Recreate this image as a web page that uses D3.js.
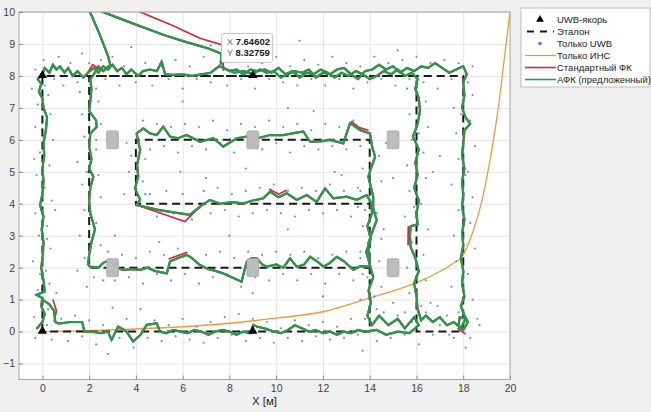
<!DOCTYPE html>
<html>
<head>
<meta charset="utf-8">
<script src="https://cdn.jsdelivr.net/npm/d3@7"></script>
<style>
  body { margin: 0; background: #f0f0f0; }
  svg { display: block; font-family: "Liberation Sans", Arial, sans-serif; }
</style>
</head>
<body>
<svg id="chart" width="651" height="412"></svg>
<script>
// axis ticks
const xTicks = [0, 2, 4, 6, 8, 10, 12, 14, 16, 18, 20];
const yTicks = [-1, 0, 1, 2, 3, 4, 5, 6, 7, 8, 9, 10];

// UWB anchors
const anchorX = [0, 9, 0, 9];
const anchorY = [8, 8, 0, 0];

// obstacles (grey boxes)
const boxX = [3, 9, 15, 3, 9, 15];
const boxY = [6, 6, 6, 2, 2, 2];

// reference route (Эталон)
const refX = [0, 0, 18, 18, 16, 16, 2, 2, 14, 14, 4, 4, 14, 14, 0];
const refY = [0, 8, 8, 0, 0, 8, 8, 2, 2, 6, 6, 4, 4, 0, 0];

// INS only
const insX = [0, 2, 4, 6, 8, 10, 12, 14, 15, 16, 17, 17.5, 18, 18.4, 18.8, 19.2, 19.5, 19.8, 20.05];
const insY = [0, 0.03, 0.08, 0.15, 0.26, 0.42, 0.62, 1.05, 1.27, 1.53, 1.88, 2.1, 2.4, 3.1, 4.1, 5.6, 7.0, 8.8, 10.3];

// proposed AFK track
const afkPath = [
  [-0.25,0.08],[0.0,0.3],[0.1,0.55],[-0.05,0.8],[0.0,1.05],[-0.25,1.15],[0.1,1.25],[0.05,1.6],[-0.05,2.0],[0.02,2.4],
  [0.05,2.8],[-0.03,3.2],[0.05,3.6],[-0.1,3.95],[0.0,4.3],[0.05,4.7],[0.0,5.1],[0.08,5.5],[0.05,5.9],[0.15,6.3],
  [0.2,6.7],[0.05,7.0],[0.0,7.3],[-0.15,7.5],[-0.05,7.75],[-0.2,7.9],[0.0,8.05],[0.1,8.25],[0.3,8.1],[0.45,8.35],
  [0.6,8.2],[0.75,8.3],[0.95,8.1],[1.1,8.25],[1.3,8.0],[1.5,8.15],[1.75,7.95],[1.95,8.1],[2.2,8.25],[2.4,8.1],
  [2.6,8.3],[2.8,8.2],[3.0,8.35],[3.2,8.15],[3.4,8.25],[3.6,8.05],[3.8,8.2],[4.1,8.0],[4.3,8.15],[4.6,8.2],
  [4.9,8.15],[5.1,8.45],[5.25,8.05],[5.6,8.03],[6.0,8.05],[6.4,8.0],[6.8,8.05],[7.2,8.1],[7.55,8.3],[7.9,8.2],
  [8.2,8.1],[8.6,8.15],[9.0,8.05],[9.3,8.2],[9.6,8.1],[9.9,8.15],[10.2,7.95],[10.5,8.05],[10.8,8.15],[11.1,8.1],
  [11.4,8.2],[11.7,7.95],[12.0,8.1],[12.3,8.05],[12.6,8.2],[12.9,8.25],[13.2,8.05],[13.5,7.9],[13.8,8.15],[14.1,8.2],
  [14.4,8.35],[14.7,8.2],[15.0,8.3],[15.3,8.1],[15.6,8.25],[15.9,8.15],[16.2,8.3],[16.5,8.25],[16.8,8.4],[17.1,8.25],
  [17.4,8.1],[17.7,8.2],[18.0,8.3],[18.15,8.05],
  [18.0,7.8],[18.05,7.4],[17.95,7.0],[18.1,6.7],[18.3,6.5],[18.05,6.3],[18.0,5.9],[17.95,5.5],[18.05,5.1],[17.95,4.7],
  [18.0,4.3],[17.95,3.9],[18.05,3.5],[17.95,3.1],[18.0,2.7],[17.9,2.3],[18.0,1.9],[17.95,1.5],[18.05,1.1],[17.9,0.8],
  [18.05,0.5],[18.2,0.3],[18.0,0.05],[17.8,0.2],[17.85,0.45],[18.1,0.4],[17.9,0.1],[17.6,0.3],[17.3,0.2],[17.0,0.45],
  [16.7,0.3],[16.4,0.5],[16.2,0.35],
  [16.05,0.7],[16.0,1.1],[15.9,1.5],[16.1,1.9],[15.95,2.3],[15.75,2.65],[15.72,3.0],[15.75,3.3],[16.05,3.35],[16.0,3.7],
  [16.1,4.1],[15.9,4.5],[16.05,4.9],[15.95,5.3],[16.1,5.7],[15.85,6.1],[16.05,6.5],[16.15,6.9],[16.1,7.3],[15.95,7.6],
  [16.05,7.9],[15.8,8.1],
  [15.5,8.0],[15.2,8.2],[14.9,8.05],[14.6,8.15],[14.3,8.0],[14.0,7.9],[13.7,8.05],[13.4,8.15],[13.1,8.0],[12.8,8.1],
  [12.5,7.95],[12.2,8.1],[11.9,8.2],[11.6,8.05],[11.3,8.1],[11.0,7.95],[10.7,8.15],[10.4,8.05],[10.1,8.25],[9.8,8.1],
  [9.5,8.2],[9.2,8.15],[8.9,8.2],[8.6,8.05],[8.3,8.2],[8.0,8.15],[7.75,8.25],[7.646,8.328],
  [7.64,8.7],[7.1,8.86],[6.2,9.05],[5.2,9.28],[4.2,9.55],[3.3,9.8],[2.59,10.0],[2.0,10.3],[1.6,10.6],[1.7,10.3],
  [2.04,10.0],[2.45,9.3],[2.82,8.6],[2.9,8.35],[2.6,8.15],[2.4,8.3],[2.2,8.05],[2.05,7.9],
  [2.1,7.6],[2.05,7.2],[2.0,6.9],[2.3,6.6],[2.32,6.4],[2.05,6.2],[2.0,5.8],[2.1,5.4],[2.0,5.1],[2.18,4.85],
  [2.05,4.5],[2.0,4.1],[2.05,3.7],[2.25,3.2],[2.1,2.8],[2.0,2.4],[1.95,2.1],[2.04,2.03],
  [2.4,2.0],[2.6,2.15],[2.89,2.24],[3.1,2.0],[3.46,1.93],[3.8,1.95],[4.18,1.93],[4.5,2.0],[4.8,1.9],[5.1,1.85],
  [5.32,1.82],[5.46,2.19],[5.8,2.3],[6.17,2.4],[6.4,2.3],[6.74,2.08],[7.1,1.95],[7.4,1.9],[7.74,1.82],[8.1,1.7],
  [8.52,1.56],[8.74,2.19],[8.95,2.3],[9.17,2.29],[9.4,2.1],[9.6,2.03],[10.0,2.1],[10.3,2.0],[10.59,2.29],[10.88,2.03],
  [11.2,2.1],[11.45,2.34],[11.75,2.2],[12.02,2.03],[12.3,2.15],[12.59,2.34],[12.9,2.2],[13.3,1.93],[13.6,2.05],[14.01,2.03],
  [13.94,2.76],[14.1,3.1],[14.3,3.49],[14.15,3.85],[14.15,4.22],[13.94,4.85],[14.05,5.1],[14.23,5.47],[14.1,5.8],[14.01,6.2],
  [13.6,6.3],[13.16,6.52],[12.87,5.89],[12.3,6.0],[11.9,5.95],[11.45,5.94],[11.16,6.26],[10.7,6.2],[10.3,6.15],[9.74,6.15],
  [9.2,6.05],[8.74,6.1],[8.31,6.05],[7.74,5.79],[7.31,6.05],[6.74,5.94],[6.17,6.15],[5.8,6.05],[5.46,6.1],[5.17,6.41],
  [4.89,6.15],[4.6,6.2],[4.32,6.36],[4.03,6.2],
  [4.18,5.68],[4.05,5.2],[4.1,4.85],[3.96,4.48],[4.18,4.12],[4.03,3.96],
  [5.0,3.8],[6.31,3.65],[6.74,3.91],[7.17,4.12],[7.6,4.0],[8.1,4.05],[8.6,4.01],[9.0,4.1],[9.45,4.17],[9.74,4.38],
  [10.1,4.2],[10.45,4.33],[10.88,4.12],[11.31,4.27],[11.73,4.06],[12.09,4.48],[12.44,4.17],[13.02,4.22],[13.44,4.12],[13.87,4.27],
  [14.08,4.01],
  [14.1,3.7],[13.9,3.3],[14.05,2.9],[13.85,2.5],[14.0,2.1],[14.15,1.7],[13.95,1.3],[14.05,0.9],[13.9,0.5],[14.1,0.2],
  [14.4,0.5],[14.8,0.2],[15.2,0.4],[15.5,0.1],[15.9,0.45],[16.1,0.2],[15.7,-0.05],[15.2,0.0],[14.7,-0.1],[14.3,0.05],
  [13.8,0.0],[13.5,0.05],[13.2,-0.05],[12.9,0.0],[12.6,-0.1],[12.3,0.0],[12.0,-0.05],[11.7,0.05],[11.4,0.0],[11.1,0.1],
  [10.8,0.2],[10.5,0.05],[10.2,-0.05],[9.9,0.0],[9.5,0.1],[9.2,0.15],[9.02,0.21],[8.9,-0.05],[8.6,0.0],[8.3,-0.1],
  [8.0,0.0],[7.7,0.05],[7.4,0.0],[7.1,-0.1],[6.8,0.0],[6.5,0.05],[6.2,-0.05],[5.9,0.0],[5.6,0.05],[5.3,-0.05],
  [5.03,0.0],[4.89,0.26],[4.46,0.21],[4.2,-0.1],[3.88,-0.31],[3.6,0.0],[3.24,0.16],[2.96,-0.26],[2.8,0.0],[2.5,-0.05],
  [2.1,0.0],[1.8,0.0],[1.7,0.3],[1.2,0.3],[0.7,0.25],[0.55,0.3],[0.5,0.65],[0.3,0.85],[0.0,1.0]
];

// standard KF: pieces where it leaves the AFK track
const kfJump = [[7.75,8.15],[7.7,8.97],[6.74,9.18],[5.5,9.6],[4.18,10.0],[3.2,10.5],[2.5,10.8]];
const kfDip = [[4.03,3.96],[6.1,3.44],[6.74,3.91]];
const kfBits = [
  [[0.5,0.3],[0.6,0.65],[0.45,1.0]],
  [[1.9,8.05],[2.15,8.35],[2.45,8.2]],
  [[13.2,6.58],[13.55,6.38],[13.95,6.3]],
  [[9.7,4.46],[10.1,4.3],[10.45,4.42]],
  [[5.4,2.27],[5.8,2.38],[6.2,2.48]],
  [[15.65,3.3],[15.64,2.7]],
  [[17.75,0.1],[18.1,-0.08]]
];

// UWB only measurements
const uwbPoints = [
  [-0.35,0.45],[0.25,0.7],[-0.2,1.3],[0.3,1.5],[0.15,1.9],[-0.4,2.2],[0.35,2.6],[-0.15,3.0],[0.2,3.3],[-0.3,3.7],
  [0.4,4.1],[0.1,4.5],[-0.25,4.9],[0.3,5.2],[-0.1,5.6],[0.45,6.0],[-0.3,6.4],[0.35,6.8],[-0.2,7.1],[0.25,7.4],
  [-0.45,7.6],[0.1,7.7],[0.5,7.9],[-0.3,8.2],[0.05,8.5],[-0.1,1.8],[0.2,2.9],[-0.35,5.4],[0.55,3.8],[0.6,1.2],
  [0.7,8.6],[0.9,7.7],[1.2,8.4],[1.5,7.8],[1.7,8.7],[2.0,8.4],[2.3,7.6],[2.5,8.5],[2.7,7.9],[3.0,8.6],
  [3.3,7.7],[3.5,8.3],[3.8,8.9],[4.0,7.8],[4.4,8.4],[4.7,7.7],[5.1,8.3],[5.4,7.9],[5.7,8.5],[6.0,7.6],
  [6.3,8.3],[6.6,7.9],[6.9,8.6],[7.2,7.8],[7.6,8.45],[7.9,7.7],[8.2,8.5],[8.5,7.9],[8.8,8.3],[9.1,7.6],
  [9.4,8.4],[9.7,7.9],[10.0,8.6],[10.3,7.8],[10.6,8.3],[10.9,7.7],[11.2,8.5],[11.5,7.9],[11.8,8.35],[12.1,7.7],
  [12.4,8.6],[12.7,7.9],[13.0,8.4],[13.3,7.6],[13.6,8.3],[13.9,7.8],[14.2,8.6],[14.5,7.9],[14.8,8.4],[15.1,7.7],
  [15.4,8.5],[15.7,7.9],[16.0,8.6],[16.3,7.8],[16.6,8.4],[16.9,7.6],[17.2,8.5],[17.5,7.9],[17.8,8.4],[18.2,7.8],
  [18.4,8.3],[11.0,9.1],[7.2,8.95],[15.2,8.8],
  [18.4,7.4],[17.6,7.0],[18.3,6.6],[17.7,6.2],[18.5,5.8],[17.8,5.4],[18.2,5.0],[17.5,4.6],[18.4,4.2],[17.8,3.8],
  [18.3,3.4],[17.6,3.0],[18.5,2.6],[17.7,2.2],[18.2,1.8],[17.5,1.4],[18.4,1.0],[17.8,0.6],[18.6,0.4],[18.3,-0.2],
  [18.1,-0.5],[17.4,-0.1],[18.7,0.2],[17.9,6.8],[18.1,4.9],
  [15.6,7.6],[16.4,7.2],[15.7,6.8],[16.5,6.4],[15.8,6.0],[16.3,5.6],[15.6,5.2],[16.4,4.8],[15.7,4.4],[16.2,4.0],
  [15.5,3.6],[16.5,3.2],[15.8,2.8],[16.3,2.4],[15.6,2.0],[16.4,1.6],[15.7,1.2],[16.2,0.8],[15.5,0.6],[16.6,0.9],
  [16.1,6.2],[15.9,3.9],[16.7,5.0],
  [1.6,7.5],[2.4,7.2],[1.7,6.8],[2.5,6.5],[1.8,6.1],[2.3,5.7],[1.5,5.3],[2.4,4.9],[1.7,4.6],[2.5,4.2],
  [1.8,3.8],[2.3,3.4],[1.6,3.0],[2.5,2.7],[1.8,2.3],[2.2,1.7],[1.5,1.9],[2.6,1.6],[1.9,1.4],[2.3,6.0],[1.9,5.0],
  [2.8,2.5],[3.1,1.6],[3.4,2.4],[3.7,1.7],[4.0,2.3],[4.3,1.5],[4.6,2.5],[4.9,1.8],[5.2,2.4],[5.5,1.6],
  [5.8,2.6],[6.1,1.8],[6.4,2.3],[6.7,1.5],[7.0,2.4],[7.3,1.7],[7.6,2.5],[7.9,1.8],[8.2,2.3],[8.5,1.4],
  [8.8,2.5],[9.1,1.7],[9.4,2.4],[9.7,1.6],[10.0,2.5],[10.3,1.8],[10.6,2.4],[10.9,1.6],[11.2,2.5],[11.5,1.8],
  [11.8,2.3],[12.1,1.5],[12.4,2.4],[12.7,1.8],[13.0,2.5],[13.3,1.6],[13.6,2.3],[13.9,1.7],[5.0,2.8],[9.0,1.2],[12.0,1.1],
  [13.6,5.8],[14.4,5.5],[13.7,5.1],[14.5,4.7],[13.6,4.4],[14.3,3.7],[13.7,3.3],[14.5,2.9],[13.6,2.5],[14.4,2.2],
  [13.7,1.8],[14.5,1.4],[13.6,1.0],[14.3,0.7],[13.8,0.4],[14.6,3.2],[13.5,3.9],[14.2,1.1],[14.7,5.9],
  [4.3,6.6],[4.6,5.7],[4.9,6.5],[5.2,5.8],[5.5,6.4],[5.8,5.6],[6.1,6.5],[6.4,5.8],[6.7,6.4],[7.0,5.7],
  [7.3,6.6],[7.6,5.9],[7.9,6.3],[8.2,5.6],[8.5,6.5],[8.8,5.8],[9.1,6.4],[9.4,5.7],[9.7,6.6],[10.0,5.9],
  [10.3,6.4],[10.6,5.6],[10.9,6.5],[11.2,5.8],[11.5,6.3],[11.8,5.7],[12.1,6.5],[12.4,5.8],[12.7,6.4],[13.0,5.7],
  [13.3,6.6],[8.7,5.1],[11.6,6.9],[5.9,5.0],
  [3.6,5.9],[4.4,5.4],[3.7,5.0],[4.3,4.7],[3.5,4.3],[4.4,4.3],[3.8,5.5],
  [4.6,4.3],[4.9,3.6],[5.3,4.4],[5.6,3.7],[6.0,4.3],[6.4,3.5],[6.9,4.4],[7.2,3.7],[7.5,4.5],[7.8,3.8],
  [8.1,4.3],[8.4,3.6],[8.7,4.4],[9.0,3.7],[9.3,4.5],[9.6,3.8],[9.9,4.6],[10.2,3.7],[10.5,4.4],[10.8,3.6],
  [11.1,4.5],[11.4,3.8],[11.7,4.4],[12.0,3.7],[12.3,4.6],[12.6,3.8],[12.9,4.4],[13.2,3.6],[13.5,4.5],[13.8,3.8],
  [7.0,4.8],[10.5,3.2],[12.8,4.9],
  [0.4,-0.25],[0.8,0.4],[1.1,-0.3],[1.4,0.5],[1.7,-0.15],[2.0,0.35],[2.3,-0.4],[2.6,0.2],[2.8,-0.7],[3.0,0.75],
  [3.3,-0.2],[3.6,0.4],[3.9,-0.5],[4.2,0.7],[4.5,-0.2],[4.8,0.35],[5.1,-0.3],[5.4,0.2],[5.7,-0.15],[6.0,0.4],
  [6.3,-0.25],[6.6,0.15],[6.9,-0.35],[7.2,0.3],[7.5,-0.2],[7.8,0.45],[8.1,-0.1],[8.4,0.55],[8.7,-0.3],[9.0,0.4],
  [9.3,-0.2],[9.6,0.3],[9.9,-0.35],[10.2,0.1],[10.5,-0.2],[10.8,0.35],[11.1,-0.3],[11.4,0.2],[11.7,-0.15],[12.0,0.3],
  [12.3,-0.25],[12.6,0.15],[12.9,-0.2],[13.2,0.4],[13.5,-0.1],[13.7,-0.6],[14.3,-0.3],[14.6,0.6],[14.9,-0.2],[15.2,0.5],
  [15.5,-0.1],[15.8,0.3],[16.1,-0.4],[16.4,0.6],[16.7,-0.1],[17.0,0.2],[17.3,0.5],[17.6,-0.2],[15.0,0.9],[16.9,0.8],
  [-0.3,-0.2],[0.2,0.2],[6.0,7.2],[10.5,7.0],[12.5,5.0],[3.1,3.0],[8.0,3.0],[15.0,4.8],[17.0,5.5]
];

// datatip
const tipPoint = [7.64602, 8.32759];

const legendLabels = ['UWB-якорь', 'Эталон', 'Только UWB', 'Только ИНС', 'Стандартный ФК', 'АФК (предложенный)'];

const colors = {
  ins: '#ee9a3a',
  kf: '#d7263d',
  afk: '#1f9d48',
  uwb: '#3b82e6'
};

const svg = d3.select('#chart');

const mLeft = 19, mRight = 510, mTop = 12, mBottom = 379.5;
const x = d3.scaleLinear().domain([-1, 20]).range([mLeft, mRight]);
const y = d3.scaleLinear().domain([-1.5, 10]).range([mBottom, mTop]);

//figure background + axes area
svg.append('rect').attr('width', 651).attr('height', 412).attr('fill', '#f0f0f0');
svg.append('rect')
  .attr('x', mLeft).attr('y', mTop)
  .attr('width', mRight - mLeft).attr('height', mBottom - mTop)
  .attr('fill', '#fff');

svg.append('clipPath').attr('id', 'plotClip')
  .append('rect')
  .attr('x', mLeft).attr('y', mTop)
  .attr('width', mRight - mLeft).attr('height', mBottom - mTop);

//grid
svg.append('g')
  .attr('transform', `translate(0,${mBottom})`)
  .call(d3.axisBottom(x).tickValues(xTicks).tickSize(-(mBottom - mTop)).tickFormat(''))
  .call(g => g.select('.domain').remove())
  .selectAll('line').attr('stroke', '#e4e4e4');
svg.append('g')
  .attr('transform', `translate(${mLeft},0)`)
  .call(d3.axisLeft(y).tickValues(yTicks).tickSize(-(mRight - mLeft)).tickFormat(''))
  .call(g => g.select('.domain').remove())
  .selectAll('line').attr('stroke', '#e4e4e4');

const plot = svg.append('g').attr('clip-path', 'url(#plotClip)');
const line = d3.line().x(d => x(d[0])).y(d => y(d[1]));
const smooth = d3.line().x(d => x(d[0])).y(d => y(d[1])).curve(d3.curveMonotoneX);

// INS only
plot.append('path')
  .datum(insX.map((v, i) => [v, insY[i]]))
  .attr('d', smooth)
  .attr('fill', 'none')
  .attr('stroke', colors.ins)
  .attr('stroke-width', 1.3);

// reference
plot.append('path')
  .datum(refX.map((v, i) => [v, refY[i]]))
  .attr('d', line)
  .attr('fill', 'none')
  .attr('stroke', '#1a1a1a')
  .attr('stroke-width', 2)
  .attr('stroke-dasharray', '8,5');

// UWB dots
plot.selectAll('circle.uwb')
  .data(uwbPoints)
  .join('circle')
  .attr('class', 'uwb')
  .attr('cx', d => x(d[0]))
  .attr('cy', d => y(d[1]))
  .attr('r', 1.1)
  .attr('fill', colors.uwb)
  .attr('opacity', 0.85);

// standard KF (mostly hidden under AFK)
plot.append('path').datum(afkPath).attr('d', line)
  .attr('fill', 'none').attr('stroke', colors.kf).attr('stroke-width', 2.2);
[kfJump, kfDip, ...kfBits].forEach(seg => {
  plot.append('path').datum(seg).attr('d', line)
    .attr('fill', 'none').attr('stroke', colors.kf).attr('stroke-width', 1.7);
});

// AFK
plot.append('path').datum(afkPath).attr('d', line)
  .attr('fill', 'none')
  .attr('stroke', colors.afk)
  .attr('stroke-width', 2.2)
  .attr('stroke-linejoin', 'round');

// obstacles
const bw = x(0.25) - x(-0.25), bh = y(-0.28) - y(0.28);
plot.selectAll('rect.box')
  .data(boxX.map((v, i) => [v, boxY[i]]))
  .join('rect')
  .attr('class', 'box')
  .attr('x', d => x(d[0]) - bw / 2)
  .attr('y', d => y(d[1]) - bh / 2)
  .attr('width', bw).attr('height', bh)
  .attr('rx', 1.5)
  .attr('fill', '#bcbcbc')
  .attr('stroke', '#a3a3a3')
  .attr('stroke-width', 0.8);

// anchors
plot.selectAll('path.anchor')
  .data(anchorX.map((v, i) => [v, anchorY[i]]))
  .join('path')
  .attr('class', 'anchor')
  .attr('d', d3.symbol().type(d3.symbolTriangle).size(38))
  .attr('transform', d => `translate(${x(d[0])},${y(d[1]) - 0.5})`)
  .attr('fill', '#000');

//axes box + ticks
svg.append('rect')
  .attr('x', mLeft).attr('y', mTop)
  .attr('width', mRight - mLeft).attr('height', mBottom - mTop)
  .attr('fill', 'none').attr('stroke', '#a6a6a6').attr('stroke-width', 1);

const xAxis = svg.append('g')
  .attr('transform', `translate(0,${mBottom})`)
  .call(d3.axisBottom(x).tickValues(xTicks).tickSizeInner(-4).tickSizeOuter(0).tickPadding(5));
const yAxis = svg.append('g')
  .attr('transform', `translate(${mLeft},0)`)
  .call(d3.axisLeft(y).tickValues(yTicks).tickSizeInner(-4).tickSizeOuter(0).tickPadding(4));
[xAxis, yAxis].forEach(g => {
  g.select('.domain').remove();
  g.selectAll('line').attr('stroke', '#8a8a8a');
  g.selectAll('text')
    .attr('fill', '#404040')
    .style('font-size', '10.5px')
    .style('font-family', '"Liberation Sans", Arial, sans-serif');
});

svg.append('text')
  .attr('x', (mLeft + mRight) / 2)
  .attr('y', 405)
  .attr('text-anchor', 'middle')
  .attr('fill', '#262626')
  .style('font-size', '11.5px')
  .text('X [м]');

// datatip
const tx = x(tipPoint[0]), ty = y(tipPoint[1]);
svg.append('circle')
  .attr('cx', tx).attr('cy', ty).attr('r', 2)
  .attr('fill', '#9a9a9a').attr('stroke', '#444').attr('stroke-width', 0.6);
const tip = svg.append('g').attr('transform', `translate(${tx + 0.5},${ty - 32})`);
tip.append('rect')
  .attr('width', 51).attr('height', 29).attr('rx', 2)
  .attr('fill', '#fff').attr('stroke', '#c4c4c4');
['X', 'Y'].forEach((lab, i) => {
  const t = tip.append('text').attr('x', 5).attr('y', 12 + i * 11).style('font-size', '9.5px');
  t.append('tspan').attr('fill', '#6b6b6b').text(lab + ' ');
  t.append('tspan').attr('fill', '#1a1a1a').attr('font-weight', 'bold')
    .text(tipPoint[i].toFixed(5));
});

//legend
const legend = svg.append('g').attr('transform', 'translate(521,8)');
legend.append('rect')
  .attr('width', 129).attr('height', 79)
  .attr('fill', '#fff').attr('stroke', '#bdbdbd');
legendLabels.forEach((lab, i) => {
  const row = legend.append('g').attr('transform', `translate(0,${11.5 + i * 12})`);
  if (i === 0) {
    row.append('path').attr('d', d3.symbol().type(d3.symbolTriangle).size(26))
      .attr('transform', 'translate(19,0)').attr('fill', '#000');
  } else if (i === 1) {
    row.append('line').attr('x1', 6).attr('x2', 33)
      .attr('stroke', '#1a1a1a').attr('stroke-width', 2).attr('stroke-dasharray', '7,6');
  } else if (i === 2) {
    row.append('circle').attr('cx', 19).attr('r', 1.8).attr('fill', colors.uwb);
  } else {
    const c = [colors.ins, colors.kf, colors.afk][i - 3];
    row.append('line').attr('x1', 4).attr('x2', 35)
      .attr('stroke', c).attr('stroke-width', i === 3 ? 1.2 : 1.6);
  }
  row.append('text')
    .attr('x', 36).attr('dy', '0.35em')
    .attr('fill', '#1a1a1a')
    .style('font-size', '9.5px')
    .text(lab);
});
</script>
</body>
</html>
